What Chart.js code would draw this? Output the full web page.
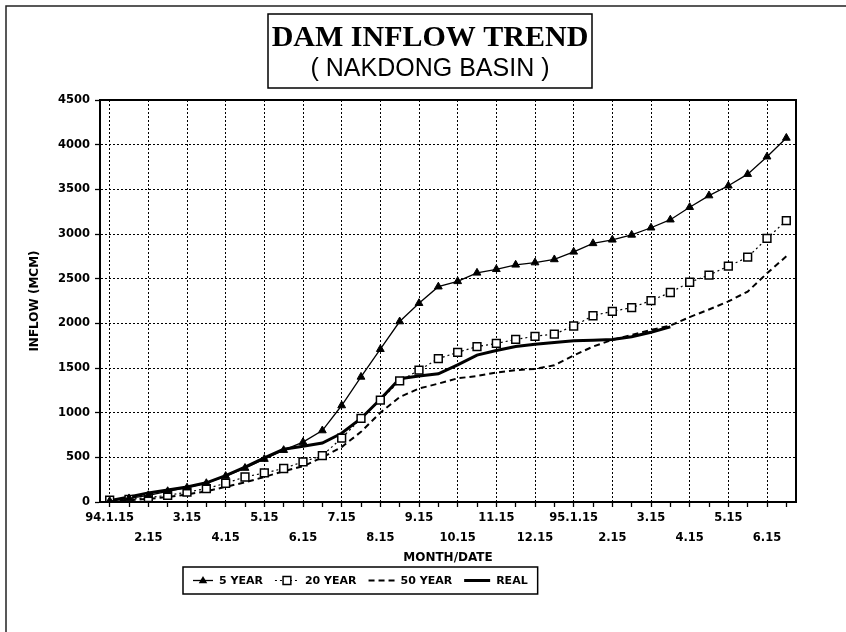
<!DOCTYPE html>
<html><head><meta charset="utf-8">
<script src="https://cdn.jsdelivr.net/npm/chart.js@4.4.0/dist/chart.umd.min.js"></script>
<style>html,body{margin:0;padding:0;background:#fff}#wrap{width:846px;height:632px;position:relative}</style>
</head><body><div id="wrap"><canvas id="c" width="846" height="632"></canvas></div>
<script>
// Half-month periods (categories)
const periods = ['94.1.15','94.1.31','94.2.15','94.2.28','94.3.15','94.3.31','94.4.15','94.4.30','94.5.15','94.5.31','94.6.15','94.6.30','94.7.15','94.7.31','94.8.15','94.8.31','94.9.15','94.9.30','94.10.15','94.10.31','94.11.15','94.11.30','94.12.15','94.12.31','95.1.15','95.1.31','95.2.15','95.2.28','95.3.15','95.3.31','95.4.15','95.4.30','95.5.15','95.5.31','95.6.15','95.6.30'];
// Month tick labels (every second period)
const tickLabels = ['94.1.15','2.15','3.15','4.15','5.15','6.15','7.15','8.15','9.15','10.15','11.15','12.15','95.1.15','2.15','3.15','4.15','5.15','6.15'];
// Series values (MCM)
const year5 = [10,40,75,120,160,210,290,380,480,580,670,800,1080,1400,1710,2020,2225,2410,2470,2565,2605,2655,2680,2715,2800,2895,2935,2990,3070,3160,3300,3430,3540,3670,3865,4075];
const year20 = [20,30,50,75,110,150,210,280,325,375,450,520,715,935,1140,1355,1475,1605,1675,1740,1775,1820,1855,1880,1970,2085,2135,2175,2255,2345,2460,2540,2640,2740,2950,3150];
const year50 = [10,20,35,55,85,120,170,220,280,345,400,500,615,785,1000,1175,1270,1325,1385,1410,1450,1475,1490,1530,1640,1740,1815,1870,1925,1975,2070,2155,2245,2355,2560,2750];
const real = [15,55,100,135,168,215,295,390,495,590,625,660,770,935,1150,1380,1410,1435,1535,1645,1695,1740,1765,1785,1805,1812,1820,1850,1900,1960];
const seriesNames = ['5 YEAR','20 YEAR','50 YEAR','REAL'];
const titleText = 'DAM INFLOW TREND';
const subtitleText = '( NAKDONG BASIN )';

const TICK_FONT = {family:'"DejaVu Sans", sans-serif', weight:'bold', size:11.5};

function drawMarker(ctx, style, r, x, y, fill, bw){
  ctx.save();
  ctx.fillStyle = fill; ctx.strokeStyle = '#000'; ctx.lineWidth = bw; ctx.setLineDash([]);
  ctx.beginPath();
  if (style === 'triangle'){
    ctx.moveTo(x, y - r);
    ctx.lineTo(x + r*0.95, y + r*0.6);
    ctx.lineTo(x - r*0.95, y + r*0.6);
    ctx.closePath(); ctx.fill();
  } else if (style === 'rect'){
    const s = r*Math.SQRT1_2;
    ctx.rect(x - s, y - s, 2*s, 2*s); ctx.fill(); ctx.stroke();
  }
  ctx.restore();
}

const decor = {
  id:'decor',
  afterDraw(chart){
    const ctx = chart.ctx, a = chart.chartArea;
    ctx.save();
    // page frame (top & left)
    ctx.strokeStyle = '#222'; ctx.lineWidth = 1.5;
    ctx.beginPath(); ctx.moveTo(6, 632); ctx.lineTo(6, 6); ctx.lineTo(846, 6); ctx.stroke();
    // plot frame
    ctx.strokeStyle = '#000'; ctx.lineWidth = 2;
    ctx.strokeRect(a.left, a.top, a.right - a.left, a.bottom - a.top);
    // title box
    ctx.lineWidth = 1.5;
    ctx.strokeRect(268, 14, 324, 74);
    ctx.fillStyle = '#000'; ctx.textAlign = 'center'; ctx.textBaseline = 'middle';
    ctx.font = 'bold 30px "Liberation Serif", "Times New Roman", serif';
    ctx.fillText(titleText, 430, 38);
    ctx.font = '25px "Liberation Sans Narrow", "Arial Narrow", "Liberation Sans", sans-serif';
    ctx.fillText(subtitleText, 430, 69);
    // legend
    const ly0 = 567, lh = 27, cy = ly0 + lh/2;
    let x = 183 + 10;
    ctx.font = 'bold 11px "DejaVu Sans", sans-serif';
    ctx.textAlign = 'left';
    chart.data.datasets.forEach(ds => {
      const sw = ds.sampleWidth;
      ctx.save();
      ctx.strokeStyle = '#000'; ctx.lineWidth = ds.borderWidth; ctx.setLineDash(ds.borderDash || []);
      ctx.beginPath(); ctx.moveTo(x, cy); ctx.lineTo(x + sw, cy); ctx.stroke();
      ctx.restore();
      if (ds.pointRadius > 0) drawMarker(ctx, ds.pointStyle, ds.pointRadius, x + sw/2, cy, ds.pointBackgroundColor, ds.pointBorderWidth || 1);
      x += sw + 6;
      ctx.fillStyle = '#000';
      ctx.fillText(ds.label, x, cy + 1);
      x += ctx.measureText(ds.label).width + 12;
    });
    ctx.lineWidth = 1.5; ctx.strokeStyle = '#000';
    ctx.strokeRect(183, ly0, x - 12 + 10 - 183, lh);
    ctx.restore();
  }
};

new Chart(document.getElementById('c'), {
  type:'line',
  data:{
    labels: periods,
    datasets:[
      {label:seriesNames[0], data:year5, borderColor:'#000', borderWidth:1.3, pointStyle:'triangle', pointRadius:4.5, pointBackgroundColor:'#000', pointBorderColor:'#000', pointBorderWidth:1, tension:0, sampleWidth:20},
      {label:seriesNames[1], data:year20, borderColor:'#000', borderWidth:1.2, borderDash:[2,3], pointStyle:'rect', pointRadius:5.5, pointBackgroundColor:'#fff', pointBorderColor:'#000', pointBorderWidth:1.5, tension:0, sampleWidth:24},
      {label:seriesNames[2], data:year50, borderColor:'#000', borderWidth:2, borderDash:[6,4], pointRadius:0, tension:0, sampleWidth:26},
      {label:seriesNames[3], data:real, borderColor:'#000', borderWidth:3, pointRadius:0, tension:0, sampleWidth:26}
    ]
  },
  options:{
    responsive:false, animation:false, devicePixelRatio:1,
    layout:{padding:{top:100, right:50, bottom:67, left:0}},
    plugins:{legend:{display:false}, tooltip:{enabled:false}, title:{display:false}},
    scales:{
      x:{
        type:'category', offset:true,
        grid:{offset:false, color:c => (c.index % 2 === 0 ? '#000' : 'rgba(0,0,0,0)'), lineWidth:1, tickColor:'#000', tickLength:5, tickWidth:1.3, drawTicks:true},
        border:{display:true, color:'#000', width:2, dash:[2,2]},
        ticks:{autoSkip:false, maxRotation:0, minRotation:0, padding:1, color:'#000',
          font:Object.assign({}, TICK_FONT, {lineHeight:1.75}),
          callback:(v, i) => (i % 2 ? '' : ((i/2) % 2 ? ['', tickLabels[i/2]] : [tickLabels[i/2], '']))},
        title:{display:true, text:'MONTH/DATE', color:'#000', font:{family:'"DejaVu Sans", sans-serif', weight:'bold', size:12}, padding:{top:1, bottom:0}},
        afterFit:s => { s.height = 63; }
      },
      y:{
        min:0, max:4500,
        grid:{color:'#000', lineWidth:1, tickColor:'#000', tickLength:5, tickWidth:1.3},
        border:{display:true, color:'#000', width:2, dash:[2,2]},
        ticks:{stepSize:500, padding:5, color:'#000', font:TICK_FONT, callback:v => String(v)},
        title:{display:true, text:'INFLOW (MCM)', color:'#000', font:{family:'"DejaVu Sans", sans-serif', weight:'bold', size:12}, padding:{top:28, bottom:0}},
        afterFit:s => { s.width = 100; }
      }
    }
  },
  plugins:[decor]
});
</script>
</body></html>
